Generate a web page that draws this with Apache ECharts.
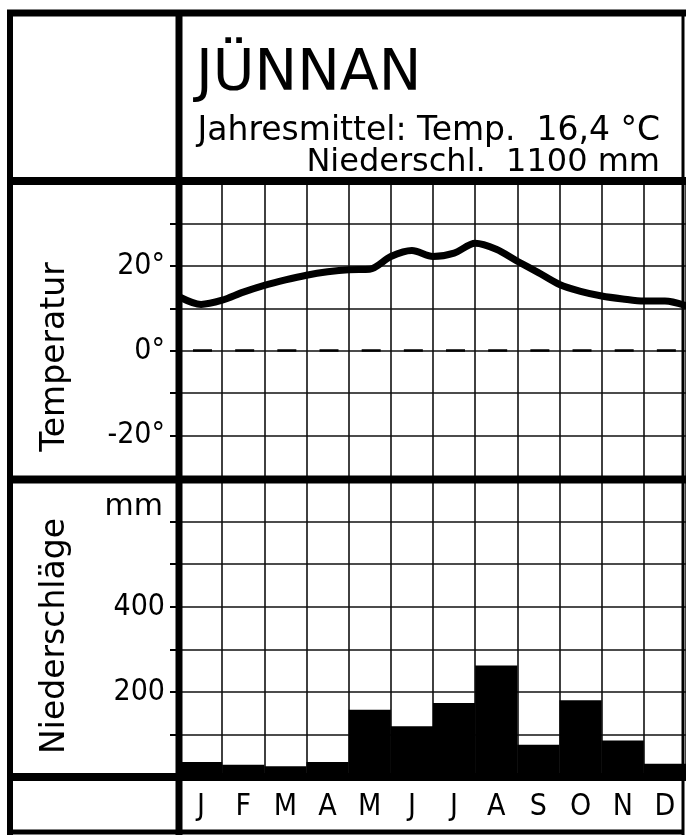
<!DOCTYPE html>
<html lang="de">
<head>
    <meta charset="UTF-8">
    <title>Jünnan Klimadiagramm</title>
    <script src="https://cdn.jsdelivr.net/npm/echarts@6.0.0/dist/echarts.min.js"></script>
</head>
<body style="margin: 0; background: #fff">
<div id="main" style="width: 686px; height: 836px"></div>
<script>
    // Monate und Niederschlag (mm)
    var months = ['J', 'F', 'M', 'A', 'M', 'J', 'J', 'A', 'S', 'O', 'N', 'D'];
    var precip = [35, 29, 25, 35, 158, 119, 174, 262, 76, 180, 86, 31];

    // Temperaturkurve: Position in Monaten (0 = Jahresanfang) und Wert in °C
    var tempX = [0, 0.5, 1, 1.5, 2, 2.5, 3, 3.5, 4, 4.5, 5, 5.5, 6, 6.5, 7, 7.5, 8, 8.5, 9, 9.5, 10, 10.5, 11, 11.5, 12];
    var tempY = [12.6, 10.9, 11.9, 13.8, 15.4, 16.7, 17.8, 18.6, 19.1, 19.2, 22.2, 23.6, 22.2, 23.0, 25.3, 23.9, 21.1, 18.4, 15.6, 14.0, 12.9, 12.2, 11.7, 11.7, 10.6];

    var tempLabels = {'20': '20°', '0': '0°', '-20': '-20°'};
    var precipLabels = {'400': '400', '200': '200'};

    var font = '"DejaVu Sans", sans-serif';
    var narrow = '"DejaVu Sans Condensed", "DejaVu Sans", sans-serif';

    var tempData = [];
    for (var i = 0; i < tempX.length; i++) {
        tempData.push([tempX[i], tempY[i]]);
    }

    function frameLine(x1, y1, x2, y2, w) {
        return {
            type: 'line', z: 100,
            shape: {x1: x1, y1: y1, x2: x2, y2: y2},
            style: {stroke: '#000', lineWidth: w}
        };
    }

    var gridLine = {show: true, lineStyle: {color: '#111', width: 1.6}};

    var myoption = {
        backgroundColor: '#fff',
        animation: false,
        textStyle: {fontFamily: font, color: '#000'},
        title: [
            {text: 'JÜNNAN', left: 196, top: 47, padding: 0,
                textStyle: {fontFamily: font, fontSize: 57, fontWeight: 'normal', color: '#000'}},
            {text: 'Jahresmittel: Temp.  16,4 °C', right: 26, top: 115, padding: 0,
                textStyle: {fontFamily: font, fontSize: 33, fontWeight: 'normal', color: '#000'}},
            {text: 'Niederschl.  1100 mm', right: 26, top: 147, padding: 0,
                textStyle: {fontFamily: font, fontSize: 32, fontWeight: 'normal', color: '#000'}}
        ],
        grid: [
            {left: 180, top: 181, width: 506, height: 297},
            {left: 180, top: 479, width: 506, height: 298}
        ],
        xAxis: [
            {
                type: 'value', gridIndex: 0, min: 0, max: 12, interval: 1,
                axisLine: {show: false}, axisTick: {show: false}, axisLabel: {show: false},
                splitLine: gridLine
            },
            {
                type: 'category', gridIndex: 1, data: months,
                axisLine: {show: false}, axisTick: {show: false},
                axisLabel: {margin: 15, fontSize: 30, color: '#000', fontFamily: narrow},
                splitLine: {show: true, interval: 0, lineStyle: {color: '#111', width: 1.6}}
            }
        ],
        yAxis: [
            {
                type: 'value', gridIndex: 0, min: -30, max: 40, interval: 10,
                axisLine: {show: false},
                axisTick: {show: true, length: 10, lineStyle: {color: '#000', width: 2}},
                axisLabel: {
                    margin: 15, fontSize: 30, color: '#000', fontFamily: narrow,
                    formatter: function (v) { return tempLabels[String(v)] || ''; }
                },
                splitLine: gridLine
            },
            {
                type: 'value', gridIndex: 1, min: 0, max: 700, interval: 100,
                axisLine: {show: false},
                axisTick: {show: true, length: 10, lineStyle: {color: '#000', width: 2}},
                axisLabel: {
                    margin: 15, fontSize: 30, color: '#000', fontFamily: narrow,
                    formatter: function (v) { return precipLabels[String(v)] || ''; }
                },
                splitLine: gridLine
            }
        ],
        series: [
            {
                name: 'Temperatur', type: 'line', xAxisIndex: 0, yAxisIndex: 0,
                data: tempData, smooth: 0.3, symbol: 'none', z: 5,
                lineStyle: {color: '#000', width: 7, cap: 'round', join: 'round'},
                markLine: {
                    silent: true, symbol: 'none', label: {show: false},
                    lineStyle: {color: '#000', width: 2.5, type: [19, 23.17], dashOffset: 29.17},
                    data: [{yAxis: 0}]
                }
            },
            {
                name: 'Niederschläge', type: 'bar', xAxisIndex: 1, yAxisIndex: 1,
                data: precip, barCategoryGap: 0, barWidth: '100%',
                itemStyle: {color: '#000'}
            }
        ],
        graphic: [
            // Rahmen
            frameLine(7, 13, 686, 13, 7),
            frameLine(10, 10, 10, 835, 6),
            frameLine(7, 832, 684, 832, 5),
            frameLine(683, 10, 683, 835, 3),
            frameLine(179, 10, 179, 835, 7),
            frameLine(7, 181, 686, 181, 8),
            frameLine(7, 479.5, 686, 479.5, 8),
            frameLine(7, 777, 686, 777, 8),
            {
                type: 'text', x: 55, y: 357, rotation: Math.PI / 2, z: 100,
                style: {text: 'Temperatur', font: '33px ' + font, fill: '#000', align: 'center', verticalAlign: 'middle'}
            },
            {
                type: 'text', x: 55, y: 636, rotation: Math.PI / 2, z: 100,
                style: {text: 'Niederschläge', font: '33px ' + font, fill: '#000', align: 'center', verticalAlign: 'middle'}
            },
            {
                type: 'text', x: 163, y: 507, z: 100,
                style: {text: 'mm', font: '30px ' + font, fill: '#000', align: 'right', verticalAlign: 'middle'}
            }
        ]
    };

    var myChart = echarts.init(document.getElementById('main'));
    myChart.setOption(myoption);
</script>
</body>
</html>
